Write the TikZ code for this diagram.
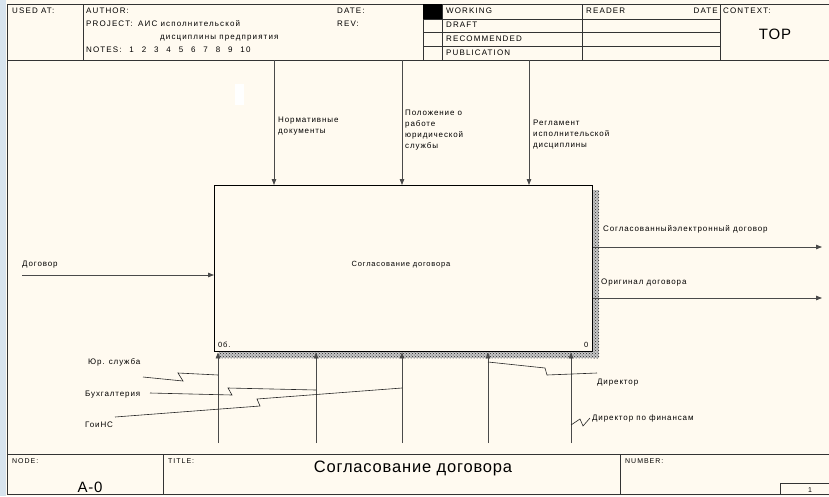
\documentclass[tikz,border=0pt]{standalone}
\usepackage{fontspec}
\setmainfont{Liberation Sans}
\newfontfamily\lblfont[LetterSpace=11]{Liberation Sans}
\newfontfamily\hdrfont[LetterSpace=14]{Liberation Sans}
\newfontfamily\ttlfont[LetterSpace=5]{Liberation Sans}
\usetikzlibrary{arrows.meta,patterns}
\definecolor{paper}{HTML}{FFFAF0}
\definecolor{winblue}{HTML}{D8E4EE}
\definecolor{arrowgray}{HTML}{4A4A4A}
\newcommand{\gp}{\ \ \hspace{1.2pt}}
\begin{document}
\begin{tikzpicture}[x=1pt,y=-1pt,
  frame/.style={draw=black!80, line width=0.8pt},
  hdr/.style={font=\fontsize{8}{9}\hdrfont, inner sep=0, anchor=base west},
  ftr/.style={font=\fontsize{7}{8}\hdrfont, inner sep=0, anchor=base west},
  lbl/.style={font=\fontsize{8}{10.8}\lblfont, inner sep=0, align=left},
  arr/.style={draw=arrowgray, line width=0.8pt, -{Triangle[length=6pt,width=4.5pt]}},
  squig/.style={draw=black!85, line width=0.6pt},
  shadow/.style={fill=gray!45, postaction={pattern=crosshatch dots, pattern color=gray!30!black}}]
\useasboundingbox (0,0) rectangle (829,496);
\fill[paper] (0,0) rectangle (829,496);
\fill[winblue] (0,0) rectangle (6,496);
% outer frame
\draw[frame] (7,4) -- (829,4);
\draw[frame] (7,4) -- (7,494) -- (829,494);
% header
\draw[frame] (7,60) -- (829,60);
\draw[frame] (83,4) -- (83,60);
\draw[frame] (423,4) -- (423,60);
\draw[frame] (442,4) -- (442,60);
\draw[frame] (582,4) -- (582,60);
\draw[frame] (720,4) -- (720,60);
\foreach \yy in {19,32,46} \draw[frame, line width=0.6pt] (423,\yy) -- (720,\yy);
\fill[black] (423,4) rectangle (442,19);
\node[hdr] (usedat) at (12,13) {USED AT:};
\node[hdr] (author) at (86,13) {AUTHOR:};
\node[hdr] (project) at (86,26) {PROJECT:};
\node[hdr] (proj1) at (138,26) {АИС исполнительской};
\node[hdr] (proj2) at (160,39) {дисциплины предприятия};
\node[hdr] (notes) at (86,52) {NOTES:\gp 1\gp 2\gp 3\gp 4\gp 5\gp 6\gp 7\gp 8\gp 9\gp 10};
\node[hdr] (date) at (337,13) {DATE:};
\node[hdr] (rev) at (337,26) {REV:};
\node[hdr] (working) at (446,13) {WORKING};
\node[hdr] (draft) at (446,27) {DRAFT};
\node[hdr] (recom) at (446,41) {RECOMMENDED};
\node[hdr] (publ) at (446,55) {PUBLICATION};
\node[hdr] (reader) at (586,13) {READER};
\node[hdr, anchor=base east] (date2) at (718,13) {DATE};
\node[hdr] (context) at (723,13) {CONTEXT:};
\node[inner sep=0, anchor=base, font=\fontsize{15}{16}\ttlfont] (top) at (775,39) {TOP};
% artifact patch
\fill[white] (235,84) rectangle (244,105);
% shadow
\fill[shadow] (592,190) rectangle (599,358);
\fill[shadow] (219,351) rectangle (599,358);
% main box
\node[draw=black, fill=paper, line width=1.4pt, minimum width=378pt, minimum height=166pt, anchor=north west, inner sep=0] (box) at (214,185) {};
\node[inner sep=0, font=\fontsize{7.5}{9}\lblfont] (boxtitle) at (401,265) {Согласование договора};
\node[hdr, font=\fontsize{7.5}{9}\lblfont] (boxnum) at (218,347) {0б.};
\node[hdr, font=\fontsize{7.5}{9}\lblfont] (boxzero) at (584,347) {0};
% controls
\coordinate (c1) at (274,60);
\coordinate (c2) at (402,60);
\coordinate (c3) at (529,60);
\draw[arr] (c1) -- (c1 |- box.north);
\draw[arr] (c2) -- (c2 |- box.north);
\draw[arr] (c3) -- (c3 |- box.north);
\node[lbl, anchor=north west] (lc1) at (278,117) {Нормативные\\документы};
\node[lbl, anchor=north west] (lc2) at (405,110) {Положение о\\работе\\юридической\\службы};
\node[lbl, anchor=north west] (lc3) at (533,120) {Регламент\\исполнительской\\дисциплины};
% input
\coordinate (i1) at (22,275);
\draw[arr] (i1) -- (i1 -| box.west);
\node[lbl, anchor=base west] (li1) at (22,266) {Договор};
% outputs
\coordinate (o1) at (822,247);
\coordinate (o2) at (822,298);
\draw[arr] (o1 -| box.east) -- (o1);
\draw[arr] (o2 -| box.east) -- (o2);
\node[lbl, anchor=base west] (lo1) at (603,231) {Согласованныйэлектронный договор};
\node[lbl, anchor=base west] (lo2) at (601,284) {Оригинал договора};
% mechanisms
\coordinate (m1) at (218,443);
\coordinate (m2) at (316,443);
\coordinate (m3) at (402,443);
\coordinate (m4) at (488,443);
\coordinate (m5) at (571,443);
\foreach \m in {m1,m2,m3,m4,m5} \draw[arr] (\m) -- (\m |- box.south);
\node[lbl, anchor=base west] (lm1) at (88,364) {Юр. служба};
\node[lbl, anchor=base west] (lm2) at (85,396) {Бухгалтерия};
\node[lbl, anchor=base west] (lm3) at (85,427) {ГоиНС};
\node[lbl, anchor=base west] (lm4) at (597,384) {Директор};
\node[lbl, anchor=base west] (lm5) at (592,420) {Директор по финансам};
% squiggles
\coordinate (s1) at (143,377);
\coordinate (s2) at (150,393);
\coordinate (s3) at (115,417);
\coordinate (s4) at (597,373);
\coordinate (s5) at (590,418);
\draw[squig] (s1) -- (183,381) -- (178,373) -- (m1 |- 0,375);
\draw[squig] (s2) -- (232,395) -- (228,388) -- (m2 |- 0,390);
\draw[squig] (s3) -- (260,406) -- (257,399) -- (m3 |- 0,388);
\draw[squig] (m4 |- 0,362) -- (545,368) -- (547,375) -- (s4);
\draw[squig] (m5 |- 0,425) -- (580,419) -- (583,426) -- (s5);
% footer
\draw[frame] (7,454) -- (829,454);
\draw[frame] (163,454) -- (163,494);
\draw[frame] (620,454) -- (620,494);
\draw[frame, line width=0.6pt] (780,494) -- (780,483) -- (829,483);
\node[ftr] (node) at (12,463) {NODE:};
\node[inner sep=0, anchor=base, font=\fontsize{15}{16}\ttlfont] (a0) at (90,492) {A-0};
\node[ftr] (titlelbl) at (168,463) {TITLE:};
\node[inner sep=0, anchor=base, font=\fontsize{16.5}{18}\ttlfont] (title) at (413,472) {Согласование договора};
\node[ftr] (number) at (625,463) {NUMBER:};
\node[inner sep=0, anchor=base, font=\fontsize{7}{8}\selectfont] (page) at (810,492) {1};
\end{tikzpicture}
\end{document}
